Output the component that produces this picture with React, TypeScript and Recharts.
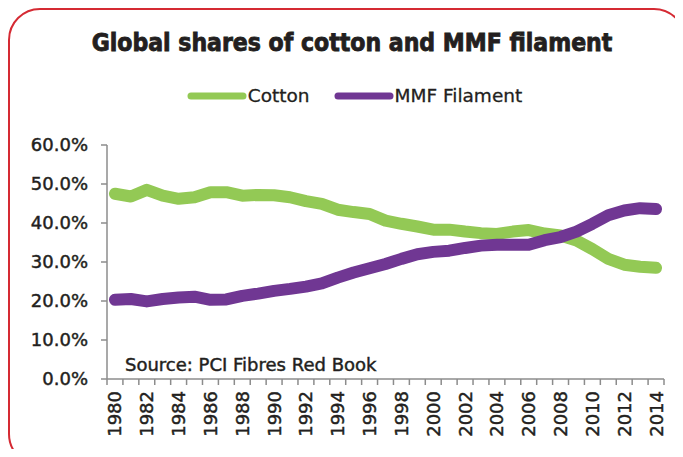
import React from 'react';
import { LineChart, Line, XAxis, YAxis } from 'recharts';

// categories and series
const years = [
  '1980', '1981', '1982', '1983', '1984', '1985', '1986', '1987', '1988', '1989',
  '1990', '1991', '1992', '1993', '1994', '1995', '1996', '1997', '1998', '1999',
  '2000', '2001', '2002', '2003', '2004', '2005', '2006', '2007', '2008', '2009',
  '2010', '2011', '2012', '2013', '2014',
];
const cottonShare = [
  47.5, 46.8, 48.5, 47.0, 46.2, 46.6, 47.9, 47.9, 47.0, 47.2,
  47.1, 46.6, 45.6, 44.9, 43.4, 42.8, 42.3, 40.6, 39.8, 39.1,
  38.3, 38.3, 37.8, 37.4, 37.2, 37.8, 38.2, 37.3, 36.8, 35.5,
  33.3, 30.8, 29.3, 28.8, 28.5,
];
const mmfShare = [
  20.3, 20.5, 19.9, 20.5, 20.9, 21.1, 20.3, 20.4, 21.3, 21.9,
  22.6, 23.1, 23.7, 24.5, 26.0, 27.3, 28.4, 29.5, 30.8, 32.0,
  32.6, 32.9, 33.6, 34.2, 34.4, 34.4, 34.4, 35.6, 36.4, 37.8,
  39.8, 42.0, 43.2, 43.8, 43.6,
];
const yTicks = [0, 10, 20, 30, 40, 50, 60];

const data = years.map((year, i) => ({ year, cotton: cottonShare[i], mmf: mmfShare[i] }));

const W = 683;
const H = 457;
const MARGIN = { top: 145, right: 19, bottom: 0, left: 0 };
const Y_AXIS_W = 107;
const X_AXIS_H = 78;
const STEP = (W - MARGIN.left - MARGIN.right - Y_AXIS_W) / years.length;

const GREEN = '#93c955';
const PURPLE = '#703793';
const AXIS = '#8c8c8c';
const INK = '#231f20';
const FONT = "'DejaVu Sans', sans-serif";

const series = [
  { key: 'cotton', name: 'Cotton', color: GREEN },
  { key: 'mmf', name: 'MMF Filament', color: PURPLE },
];

const XTick = ({ x, y, payload, index }: any) => {
  const half = (payload && payload.offset) || STEP / 2;
  const isLast = index === years.length - 1;
  return (
    <g>
      <line x1={x - half} x2={x - half} y1={y} y2={y + 6} stroke={AXIS} strokeWidth={1.5} />
      {isLast && <line x1={x + half} x2={x + half} y1={y} y2={y + 6} stroke={AXIS} strokeWidth={1.5} />}
      {index % 2 === 0 && (
        <text
          transform={`translate(${x},${y + 12}) rotate(-90)`}
          textAnchor="end"
          dominantBaseline="central"
          fontFamily={FONT}
          fontSize={18}
          fill={INK}
          stroke={INK}
          strokeWidth={0.45}
        >
          {payload.value}
        </text>
      )}
    </g>
  );
};

const ChartLegend = () => (
  <div
    style={{
      position: 'absolute',
      top: 85,
      left: 0,
      width: W,
      display: 'flex',
      justifyContent: 'center',
      alignItems: 'center',
      gap: 24,
      paddingLeft: 26,
      boxSizing: 'border-box',
      fontFamily: FONT,
      fontSize: 18.5,
      color: INK,
      WebkitTextStroke: `0.3px ${INK}`,
    }}
  >
    {series.map((s) => (
      <div key={s.key} style={{ display: 'flex', alignItems: 'center' }}>
        <svg width={60} height={10}>
          <line x1={4} x2={56} y1={5} y2={5} stroke={s.color} strokeWidth={7} strokeLinecap="round" />
        </svg>
        <span style={{ marginLeft: 1 }}>{s.name}</span>
      </div>
    ))}
  </div>
);

export default function App() {
  return (
    <div style={{ position: 'relative', width: W, height: H, margin: -8, overflow: 'hidden', background: '#fff' }}>
      <div
        style={{
          position: 'absolute',
          left: 8,
          top: 8,
          width: 674,
          height: 454,
          border: '2px solid #d52a33',
          borderRadius: 32,
        }}
      />
      <LineChart width={W} height={H} data={data} margin={MARGIN}>
        <XAxis
          dataKey="year"
          scale="band"
          interval={0}
          height={X_AXIS_H}
          tickSize={0}
          tickMargin={0}
          tickLine={false}
          axisLine={{ stroke: AXIS, strokeWidth: 1.5 }}
          tick={<XTick />}
        />
        <YAxis
          width={Y_AXIS_W}
          domain={[0, 60]}
          ticks={yTicks}
          interval={0}
          tickSize={6}
          tickMargin={13}
          tickFormatter={(v: number) => `${v.toFixed(1)}%`}
          axisLine={{ stroke: AXIS, strokeWidth: 1.5 }}
          tickLine={{ stroke: AXIS, strokeWidth: 1.5 }}
          tick={{ fill: INK, fontSize: 18, fontFamily: FONT, stroke: INK, strokeWidth: 0.45 }}
        />
        {series.map((s) => (
          <Line
            key={s.key}
            dataKey={s.key}
            name={s.name}
            type="linear"
            stroke={s.color}
            strokeWidth={12}
            strokeLinecap="round"
            strokeLinejoin="round"
            dot={false}
            activeDot={false}
            isAnimationActive={false}
          />
        ))}
      </LineChart>
      <ChartLegend />
      <svg width={W} height={H} style={{ position: 'absolute', left: 0, top: 0, pointerEvents: 'none' }}>
        <text
          x={352}
          y={51}
          textAnchor="middle"
          fontFamily="'DejaVu Sans Condensed', 'DejaVu Sans', sans-serif"
          fontStretch="condensed"
          fontWeight="bold"
          fontSize={24.5}
          fill={INK}
          stroke={INK}
          strokeWidth={0.8}
        >
          Global shares of cotton and MMF filament
        </text>
        <text x={125} y={371} fontFamily={FONT} fontSize={18} fill={INK} stroke={INK} strokeWidth={0.45}>
          Source: PCI Fibres Red Book
        </text>
      </svg>
    </div>
  );
}
